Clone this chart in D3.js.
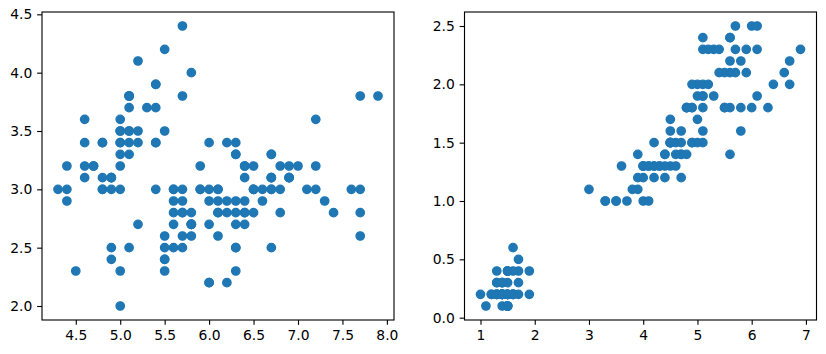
<!DOCTYPE html>
<html>
<head>
<meta charset="utf-8">
<script src="https://cdn.jsdelivr.net/npm/d3@7"></script>
<style>
  body { margin: 0; background: #fff; }
  svg { display: block; }
  .tick text { font-family: "DejaVu Sans", sans-serif; font-size: 13.89px; fill: #000; }
</style>
</head>
<body>
<div id="chart"></div>
<script>
const sepalLength = [5.1,4.9,4.7,4.6,5.0,5.4,4.6,5.0,4.4,4.9,5.4,4.8,4.8,4.3,5.8,5.7,5.4,5.1,5.7,5.1,
  5.4,5.1,4.6,5.1,4.8,5.0,5.0,5.2,5.2,4.7,4.8,5.4,5.2,5.5,4.9,5.0,5.5,4.9,4.4,5.1,
  5.0,4.5,4.4,5.0,5.1,4.8,5.1,4.6,5.3,5.0,
  7.0,6.4,6.9,5.5,6.5,5.7,6.3,4.9,6.6,5.2,5.0,5.9,6.0,6.1,5.6,6.7,5.6,5.8,6.2,5.6,
  5.9,6.1,6.3,6.1,6.4,6.6,6.8,6.7,6.0,5.7,5.5,5.5,5.8,6.0,5.4,6.0,6.7,6.3,5.6,5.5,
  5.5,6.1,5.8,5.0,5.6,5.7,5.7,6.2,5.1,5.7,
  6.3,5.8,7.1,6.3,6.5,7.6,4.9,7.3,6.7,7.2,6.5,6.4,6.8,5.7,5.8,6.4,6.5,7.7,7.7,6.0,
  6.9,5.6,7.7,6.3,6.7,7.2,6.2,6.1,6.4,7.2,7.4,7.9,6.4,6.3,6.1,7.7,6.3,6.4,6.0,6.9,
  6.7,6.9,5.8,6.8,6.7,6.7,6.3,6.5,6.2,5.9];
const sepalWidth = [3.5,3.0,3.2,3.1,3.6,3.9,3.4,3.4,2.9,3.1,3.7,3.4,3.0,3.0,4.0,4.4,3.9,3.5,3.8,3.8,
  3.4,3.7,3.6,3.3,3.4,3.0,3.4,3.5,3.4,3.2,3.1,3.4,4.1,4.2,3.1,3.2,3.5,3.1,3.0,3.4,
  3.5,2.3,3.2,3.5,3.8,3.0,3.8,3.2,3.7,3.3,
  3.2,3.2,3.1,2.3,2.8,2.8,3.3,2.4,2.9,2.7,2.0,3.0,2.2,2.9,2.9,3.1,3.0,2.7,2.2,2.5,
  3.2,2.8,2.5,2.8,2.9,3.0,2.8,3.0,2.9,2.6,2.4,2.4,2.7,2.7,3.0,3.4,3.1,2.3,3.0,2.5,
  2.6,3.0,2.6,2.3,2.7,3.0,2.9,2.9,2.5,2.8,
  3.3,2.7,3.0,2.9,3.0,3.0,2.5,2.9,2.5,3.6,3.2,2.7,3.0,2.5,2.8,3.2,3.0,3.8,2.6,2.2,
  3.2,2.8,2.8,2.7,3.3,3.2,2.8,3.0,2.8,3.0,2.8,3.8,2.8,2.8,2.6,3.0,3.4,3.1,3.0,3.1,
  3.1,3.1,2.7,3.2,3.3,3.0,2.5,3.0,3.4,3.0];
const petalLength = [1.4,1.4,1.3,1.5,1.4,1.7,1.4,1.5,1.4,1.5,1.5,1.6,1.4,1.1,1.2,1.5,1.3,1.4,1.7,1.5,
  1.7,1.5,1.0,1.7,1.9,1.6,1.6,1.5,1.4,1.6,1.6,1.5,1.5,1.4,1.5,1.2,1.3,1.5,1.3,1.5,
  1.3,1.3,1.3,1.6,1.9,1.4,1.6,1.4,1.5,1.4,
  4.7,4.5,4.9,4.0,4.6,4.5,4.7,3.3,4.6,3.9,3.5,4.2,4.0,4.7,3.6,4.4,4.5,4.1,4.5,3.9,
  4.8,4.0,4.9,4.7,4.3,4.4,4.8,5.0,4.5,3.5,3.8,3.7,3.9,5.1,4.5,4.5,4.7,4.4,4.1,4.0,
  4.4,4.6,4.0,3.3,4.2,4.2,4.2,4.3,3.0,4.1,
  6.0,5.1,5.9,5.6,5.8,6.6,4.5,6.3,5.8,6.1,5.1,5.3,5.5,5.0,5.1,5.3,5.5,6.7,6.9,5.0,
  5.7,4.9,6.7,4.9,5.7,6.0,4.8,4.9,5.6,5.8,6.1,6.4,5.6,5.1,5.6,6.1,5.6,5.5,4.8,5.4,
  5.6,5.1,5.1,5.9,5.7,5.2,5.0,5.2,5.4,5.1];
const petalWidth = [0.2,0.2,0.2,0.2,0.2,0.4,0.3,0.2,0.2,0.1,0.2,0.2,0.1,0.1,0.2,0.4,0.4,0.3,0.3,0.3,
  0.2,0.4,0.2,0.5,0.2,0.2,0.4,0.2,0.2,0.2,0.2,0.4,0.1,0.2,0.1,0.2,0.2,0.1,0.2,0.2,
  0.3,0.3,0.2,0.6,0.4,0.3,0.2,0.2,0.2,0.2,
  1.4,1.5,1.5,1.3,1.5,1.3,1.6,1.0,1.3,1.4,1.0,1.5,1.0,1.4,1.3,1.4,1.5,1.0,1.5,1.1,
  1.8,1.3,1.5,1.2,1.3,1.4,1.4,1.7,1.5,1.0,1.1,1.0,1.2,1.6,1.5,1.6,1.5,1.3,1.3,1.3,
  1.2,1.4,1.2,1.0,1.3,1.2,1.3,1.3,1.1,1.3,
  2.5,1.9,2.1,1.8,2.2,2.1,1.7,1.8,1.8,2.5,2.0,1.9,2.1,2.0,2.4,2.3,1.8,2.2,2.3,1.5,
  2.3,2.0,2.0,1.8,2.1,1.8,1.8,1.8,2.1,1.6,1.9,2.0,2.2,1.5,1.4,2.3,2.4,1.8,1.8,2.1,
  2.4,2.3,1.9,2.3,2.5,2.3,1.9,2.0,2.3,1.8];

const leftXTicks = [4.5,5.0,5.5,6.0,6.5,7.0,7.5,8.0];
const leftYTicks = [2.0,2.5,3.0,3.5,4.0,4.5];
const rightXTicks = [1,2,3,4,5,6,7];
const rightYTicks = [0.0,0.5,1.0,1.5,2.0,2.5];

const W = 826, H = 354;
const marginTop = 12, plotH = 308, plotW = 352;
const color = "#1f77b4";

const svg = d3.select("#chart").append("svg")
    .attr("width", W)
    .attr("height", H);

// matplotlib style 5% margins around the data extent
function padded(vals) {
    const [lo, hi] = d3.extent(vals);
    const p = (hi - lo) * 0.05;
    return [lo - p, hi + p];
}

function panel(left, xs, ys, xTicks, yTicks, fmtX, fmtY) {
    const x = d3.scaleLinear().domain(padded(xs)).range([0, plotW]);
    const y = d3.scaleLinear().domain(padded(ys)).range([plotH, 0]);

    const g = svg.append("g").attr("transform", `translate(${left},${marginTop})`);

    g.append("g")
        .selectAll("circle")
        .data(d3.zip(xs, ys))
        .enter()
        .append("circle")
        .attr("cx", d => x(d[0]))
        .attr("cy", d => y(d[1]))
        .attr("r", 4.17)
        .attr("fill", color)
        .attr("stroke", color)
        .attr("stroke-width", 1.39);

    const xAxis = g.append("g")
        .attr("transform", `translate(0,${plotH})`)
        .call(d3.axisBottom(x).tickValues(xTicks).tickFormat(fmtX).tickSize(4.86).tickPadding(4.86));
    const yAxis = g.append("g")
        .call(d3.axisLeft(y).tickValues(yTicks).tickFormat(fmtY).tickSize(4.86).tickPadding(4.86));

    [xAxis, yAxis].forEach(a => {
        a.select(".domain").remove();
        a.selectAll(".tick line").attr("stroke", "#000").attr("stroke-width", 1.11);
    });

    g.append("rect")
        .attr("width", plotW)
        .attr("height", plotH)
        .attr("fill", "none")
        .attr("stroke", "#000")
        .attr("stroke-width", 1.11);
}

panel(42, sepalLength, sepalWidth, leftXTicks, leftYTicks, d3.format(".1f"), d3.format(".1f"));
panel(464.5, petalLength, petalWidth, rightXTicks, rightYTicks, d3.format("d"), d3.format(".1f"));
</script>
</body>
</html>
